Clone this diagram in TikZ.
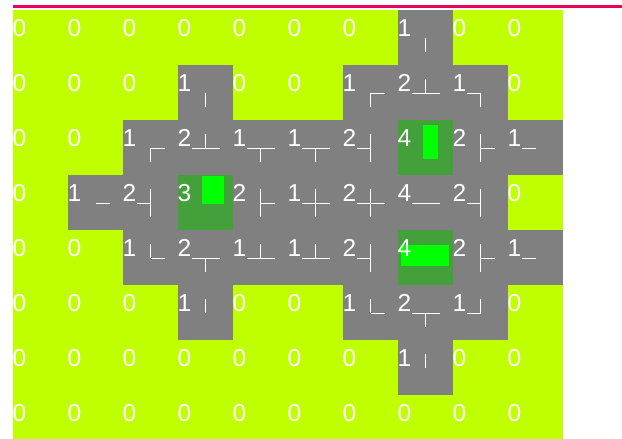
\documentclass[tikz,border=0pt]{standalone}
\usepackage{fontspec}
\setmainfont{Liberation Sans}
\definecolor{limebg}{RGB}{191,255,0}
\definecolor{cellgray}{RGB}{128,128,128}
\definecolor{seedgreen}{RGB}{67,160,58}
\definecolor{markgreen}{RGB}{0,255,0}
\definecolor{topline}{RGB}{232,0,90}

\begin{document}
\begin{tikzpicture}[x=1pt,y=-1pt,
  cnt/.style={anchor=base west,inner sep=0pt,text=white,font=\fontsize{24.5}{24.5}\selectfont},
  wire/.style={draw=white,line width=1pt}]
  \useasboundingbox (0,0) rectangle (622,439);
  \draw[topline,line width=3.4pt] (13,6.6) -- (622,6.6);
  \fill[limebg] (13,9.5) rectangle (563,439);
  \foreach \r/\c in {0/7,1/3,1/6,1/7,1/8,2/2,2/3,2/4,2/5,2/6,2/7,2/8,2/9,3/1,3/2,3/3,3/4,3/5,3/6,3/7,3/8,
                     4/2,4/3,4/4,4/5,4/6,4/7,4/8,4/9,5/3,5/6,5/7,5/8,6/7}
    \fill[cellgray] ({13+55*\c},{9.5+55*\r}) rectangle ++(55,55);
  \foreach \r/\c/\xa/\ya/\xb/\yb in {2/7/25/5/40/39,3/3/24/1/46/29,4/7/3/15/51/36} {
    \fill[seedgreen] ({13+55*\c},{9.5+55*\r}) rectangle ++(55,55);
    \fill[markgreen] ({13+55*\c+\xa},{9.5+55*\r+\ya}) rectangle ({13+55*\c+\xb},{9.5+55*\r+\yb});
  }
  \begin{scope}
    \clip (13.5,9.5) rectangle (563,439);
    \foreach \vals [count=\r from 0] in {{0,0,0,0,0,0,0,1,0,0},{0,0,0,1,0,0,1,2,1,0},{0,0,1,2,1,1,2,4,2,1},
                                         {0,1,2,3,2,1,2,4,2,0},{0,0,1,2,1,1,2,4,2,1},{0,0,0,1,0,0,1,2,1,0},
                                         {0,0,0,0,0,0,0,1,0,0},{0,0,0,0,0,0,0,0,0,0}} {
      \foreach \v [count=\c from 0] in \vals
        \node[cnt] (n-\r-\c) at ({12.5+55*\c},{9.5+55*\r+27}) {\v};
    }
  \end{scope}
  \foreach \r/\c/\up/\dn/\lf/\rt in {0/7/0/1/0/0,1/3/0/1/0/0,1/6/0/1/0/1,1/7/1/0/1/1,1/8/0/1/1/0,
      2/2/0/1/0/1,2/3/1/0/1/1,2/4/0/1/1/1,2/5/0/1/1/1,2/6/1/1/1/0,2/8/1/1/0/1,2/9/0/0/1/0,
      3/1/0/0/0/1,3/2/1/1/1/0,3/4/1/1/0/1,3/5/1/1/1/1,3/6/1/1/1/1,3/7/0/0/1/1,3/8/1/1/1/0,
      4/2/1/0/0/1,4/3/0/1/1/1,4/4/1/0/1/1,4/5/1/0/1/1,4/6/1/1/1/0,4/8/1/1/0/1,4/9/0/0/1/0,
      5/3/1/0/0/0,5/6/1/0/0/1,5/7/0/1/1/1,5/8/1/0/1/0,6/7/1/0/0/0} {
    \coordinate (w-\r-\c) at ({13+55*\c+27.5},{9.5+55*\r+28.5});
    \draw[wire] (w-\r-\c) -- ++(0,-14*\up) (w-\r-\c) -- ++(0,14*\dn)
                (w-\r-\c) -- ++(-14*\lf,0) (w-\r-\c) -- ++(14*\rt,0);
  }
\end{tikzpicture}
\end{document}
